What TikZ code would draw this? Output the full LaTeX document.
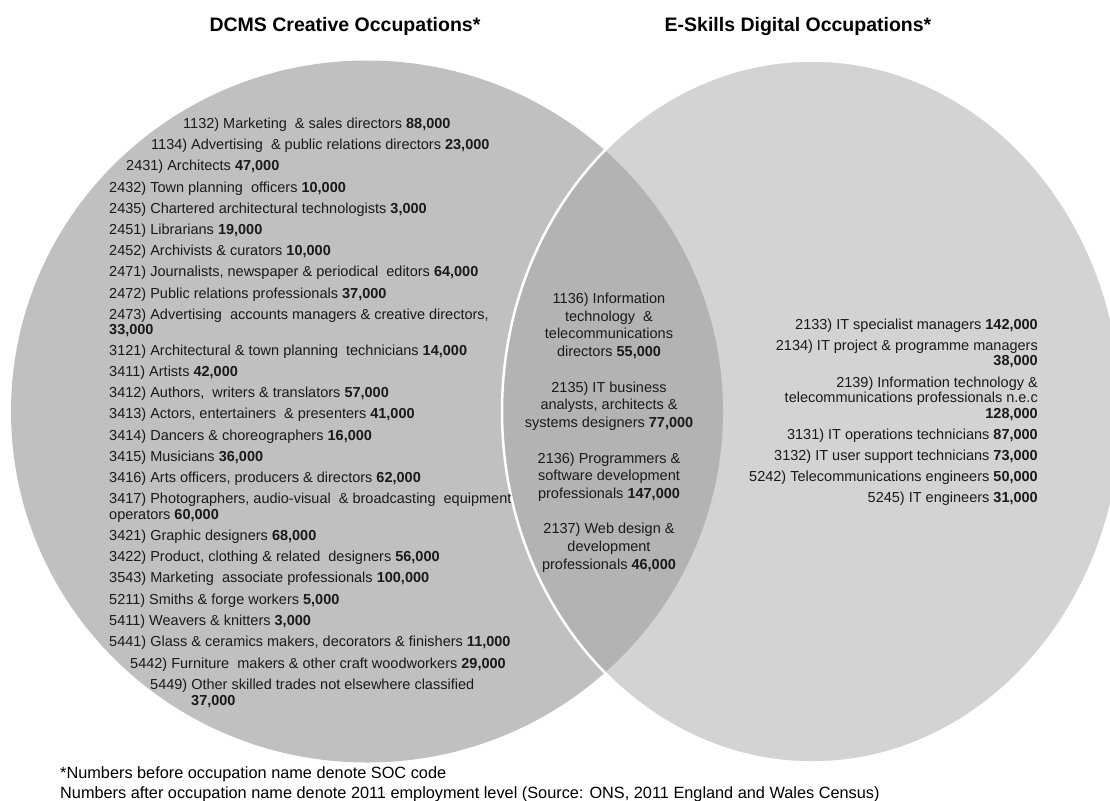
\documentclass[tikz,border=0pt]{standalone}
\usepackage{fontspec}
\setmainfont{Liberation Sans}
\definecolor{leftfill}{HTML}{C0C0C0}
\definecolor{rightfill}{HTML}{D3D3D3}
\definecolor{lensfill}{HTML}{B3B3B3}
\definecolor{txt}{HTML}{1A1A1A}
\tikzset{
  lst/.style={anchor=base west, inner sep=0pt, text=txt, font=\fontsize{14.5}{15.5}\selectfont},
  mid/.style={anchor=base, inner sep=0pt, text=txt, font=\fontsize{14.5}{15.5}\selectfont},
  rgt/.style={anchor=base east, inner sep=0pt, text=txt, font=\fontsize{14.5}{15.5}\selectfont},
  ttl/.style={anchor=base, inner sep=0pt, text=black, font=\fontsize{19.5}{22}\selectfont\bfseries},
  fnote/.style={anchor=base west, inner sep=0pt, text=black, font=\fontsize{16.3}{18}\selectfont}
}
\begin{document}
\begin{tikzpicture}[x=1pt,y=-1pt]
\useasboundingbox (0,0) rectangle (1110,800);
\clip (0,0) rectangle (1110,800);
% circles
\fill[leftfill] (367,411.5) ellipse [x radius=356, y radius=351];
\fill[rightfill] (812,411.5) ellipse [x radius=310, y radius=351];
\begin{scope}
  \clip (367,411.5) ellipse [x radius=356, y radius=351];
  \fill[lensfill] (812,411.5) ellipse [x radius=310, y radius=351];
\end{scope}
\draw[white, line width=2.5pt] (812,411.5) ellipse [x radius=310, y radius=351];
% titles
\node[ttl] (t1) at (345,32) {DCMS Creative Occupations*};
\node[ttl] (t2) at (798,32) {E-Skills Digital Occupations*};
% left list
\node[lst] (l01) at (183,128) {1132) Marketing \ \& sales directors \textbf{88,000}};
\node[lst] (l02) at (151,149) {1134) Advertising \ \& public relations directors \textbf{23,000}};
\node[lst] (l03) at (126,170) {2431) Architects \textbf{47,000}};
\node[lst] (l04) at (109,192) {2432) Town planning \ officers \textbf{10,000}};
\node[lst] (l05) at (109,213) {2435) Chartered architectural technologists \textbf{3,000}};
\node[lst] (l06) at (109,234) {2451) Librarians \textbf{19,000}};
\node[lst] (l07) at (109,255) {2452) Archivists \& curators \textbf{10,000}};
\node[lst] (l08) at (109,276) {2471) Journalists, newspaper \& periodical \ editors \textbf{64,000}};
\node[lst] (l09) at (109,298) {2472) Public relations professionals \textbf{37,000}};
\node[lst] (l10) at (109,319) {2473) Advertising \ accounts managers \& creative directors,};
\node[lst] (l10b) at (109,334) {\textbf{33,000}};
\node[lst] (l11) at (109,355) {3121) Architectural \& town planning \ technicians \textbf{14,000}};
\node[lst] (l12) at (109,376) {3411) Artists \textbf{42,000}};
\node[lst] (l13) at (109,397) {3412) Authors, \ writers \& translators \textbf{57,000}};
\node[lst] (l14) at (109,418) {3413) Actors, entertainers \ \& presenters \textbf{41,000}};
\node[lst] (l15) at (109,440) {3414) Dancers \& choreographers \textbf{16,000}};
\node[lst] (l16) at (109,461) {3415) Musicians \textbf{36,000}};
\node[lst] (l17) at (109,482) {3416) Arts officers, producers \& directors \textbf{62,000}};
\node[lst] (l18) at (109,503) {3417) Photographers, audio-visual \ \& broadcasting \ equipment};
\node[lst] (l18b) at (109,519) {operators \textbf{60,000}};
\node[lst] (l19) at (109,540) {3421) Graphic designers \textbf{68,000}};
\node[lst] (l20) at (109,561) {3422) Product, clothing \& related \ designers \textbf{56,000}};
\node[lst] (l21) at (109,582) {3543) Marketing \ associate professionals \textbf{100,000}};
\node[lst] (l22) at (109,604) {5211) Smiths \& forge workers \textbf{5,000}};
\node[lst] (l23) at (109,625) {5411) Weavers \& knitters \textbf{3,000}};
\node[lst] (l24) at (109,646) {5441) Glass \& ceramics makers, decorators \& finishers \textbf{11,000}};
\node[lst] (l25) at (130,668) {5442) Furniture \ makers \& other craft woodworkers \textbf{29,000}};
\node[lst] (l26) at (150,689) {5449) Other skilled trades not elsewhere classified};
\node[lst] (l26b) at (191,705) {\textbf{37,000}};
% lens
\node[mid] (m01) at (609,303) {1136) Information};
\node[mid] (m02) at (609,321) {technology \ \&};
\node[mid] (m03) at (609,338) {telecommunications};
\node[mid] (m04) at (609,356) {directors \textbf{55,000}};
\node[mid] (m05) at (609,392) {2135) IT business};
\node[mid] (m06) at (609,409) {analysts, architects \&};
\node[mid] (m07) at (609,427) {systems designers \textbf{77,000}};
\node[mid] (m08) at (609,463) {2136) Programmers \&};
\node[mid] (m09) at (609,480) {software development};
\node[mid] (m10) at (609,498) {professionals \textbf{147,000}};
\node[mid] (m11) at (609,533) {2137) Web design \&};
\node[mid] (m12) at (609,551) {development};
\node[mid] (m13) at (609,569) {professionals \textbf{46,000}};
% right list
\node[rgt] (r01) at (1038,329) {2133) IT specialist managers \textbf{142,000}};
\node[rgt] (r02) at (1038,350) {2134) IT project \& programme managers};
\node[rgt] (r02b) at (1038,365) {\textbf{38,000}};
\node[rgt] (r03) at (1038,387) {2139) Information technology \&};
\node[rgt] (r03b) at (1038,402) {telecommunications professionals n.e.c};
\node[rgt] (r03c) at (1038,418) {\textbf{128,000}};
\node[rgt] (r04) at (1038,439) {3131) IT operations technicians \textbf{87,000}};
\node[rgt] (r05) at (1038,460) {3132) IT user support technicians \textbf{73,000}};
\node[rgt] (r06) at (1038,481) {5242) Telecommunications engineers \textbf{50,000}};
\node[rgt] (r07) at (1038,502) {5245) IT engineers \textbf{31,000}};
% footnotes
\node[fnote] (f1) at (60,778) {*Numbers before occupation name denote SOC code};
\node[fnote] (f2) at (60,798) {Numbers after occupation name denote 2011 employment level (Source: ONS, 2011 England and Wales Census)};
\end{tikzpicture}
\end{document}
